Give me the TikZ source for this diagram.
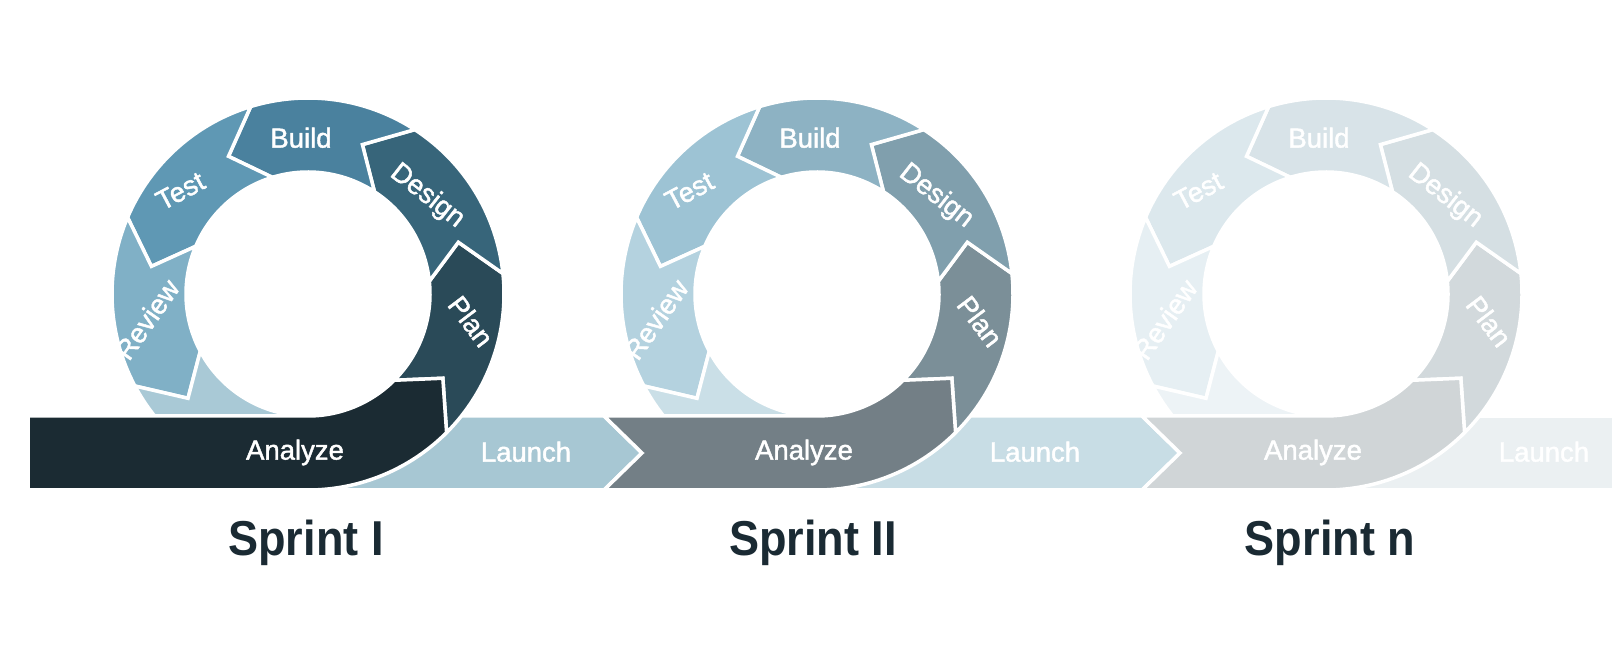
\documentclass[tikz,border=0pt]{standalone}
\usepackage{fontspec}
\setmainfont{Liberation Sans}
\newfontfamily\lblfont[FakeBold=1.6]{Liberation Sans}
\newfontfamily\ttlfont[FakeStretch=0.92]{Liberation Sans}
\definecolor{titlecol}{HTML}{1A2A33}
% Sprint I
\definecolor{anI}{HTML}{1B2B33}
\definecolor{plI}{HTML}{2A4A58}
\definecolor{deI}{HTML}{37657A}
\definecolor{buI}{HTML}{4A819E}
\definecolor{teI}{HTML}{5F98B4}
\definecolor{reI}{HTML}{80B0C6}
\definecolor{liI}{HTML}{A9C9D6}
\definecolor{laI}{HTML}{A7C7D3}
% Sprint II
\definecolor{anII}{HTML}{737F86}
\definecolor{plII}{HTML}{7B8F98}
\definecolor{deII}{HTML}{809FAD}
\definecolor{buII}{HTML}{8DB2C3}
\definecolor{teII}{HTML}{9DC3D4}
\definecolor{reII}{HTML}{B4D2DF}
\definecolor{liII}{HTML}{CADFE7}
\definecolor{laII}{HTML}{C8DDE5}
% Sprint n
\definecolor{anN}{HTML}{D0D5D7}
\definecolor{plN}{HTML}{D2D9DC}
\definecolor{deN}{HTML}{D5DFE3}
\definecolor{buN}{HTML}{D8E3E8}
\definecolor{teN}{HTML}{DCE8ED}
\definecolor{reN}{HTML}{E6EFF3}
\definecolor{liN}{HTML}{EDF3F6}
\definecolor{laN}{HTML}{EBF0F2}
\tikzset{
  sepline/.style={draw=white, line width=3.5pt, line join=miter},
  lbl/.style={text=white, font=\lblfont\fontsize{27.5}{30}\selectfont, inner sep=0pt, text height=0.72em, text depth=0pt, anchor=center},
  ttl/.style={text=titlecol, font=\ttlfont\bfseries\fontsize{49}{55}\selectfont, inner sep=0pt, anchor=base},
}
% ring segment: start angle, end angle, colour
\newcommand{\ringseg}[3]{%
  \filldraw[fill=#3, sepline] (#1:196pt) arc[start angle=#1, end angle=#2, radius=196pt]
    -- ({#2+13}:159pt) -- (#2:122pt) arc[start angle=#2, end angle=#1, radius=122pt]
    -- ({#1+13}:159pt) -- cycle;}
% tail piece going under the bar
\newcommand{\tailseg}[1]{%
  \filldraw[fill=#1, sepline] (208:196pt) arc[start angle=208, end angle=270, radius=196pt]
    -- (270:122pt) arc[start angle=270, end angle=208, radius=122pt]
    -- (221:159pt) -- cycle;}
% the ring of one sprint: suffix of colour names
\newcommand{\sprintring}[1]{%
  \ringseg{-45}{6}{pl#1}
  \ringseg{6}{57}{de#1}
  \ringseg{57}{107}{bu#1}
  \ringseg{107}{157}{te#1}
  \ringseg{157}{208}{re#1}
  \tailseg{li#1}}
\newcommand{\sprintlabels}[1]{%
  \node[lbl] (build#1) at (-7,150) {Build};
  \node[lbl, rotate=-38] (design#1) at (117,95) {Design};
  \node[lbl, rotate=-53] (plan#1) at (158,-31) {Plan};
  \node[lbl, rotate=28] (test#1) at (-125,98) {Test};
  \node[lbl, rotate=55] (review#1) at (-156,-29) {Review};
  \node[lbl] (analyze#1) at (-13,-162) {Analyze};
  \node[lbl] (launch#1) at (218,-164) {Launch};}
\begin{document}
\begin{tikzpicture}[x=1pt,y=1pt]
\fill[white] (0,0) rectangle (1612,648);
\useasboundingbox (0,0) rectangle (1612,648);

% ---------------- Sprint I ----------------
\begin{scope}[shift={(308,354)}]
  \filldraw[fill=laI, sepline] (0,-122) -- (296,-122) -- (334,-159) -- (296,-196) -- (0,-196) -- cycle;
  \sprintring{I}
  \filldraw[fill=anI, sepline] (-280,-122) -- (0,-122)
    arc[start angle=270, end angle=315, radius=122pt] -- (328:159pt) -- (315:196pt)
    arc[start angle=315, end angle=270, radius=196pt] -- (-280,-196) -- cycle;
  \sprintlabels{1}
  \node[ttl] (sprint1) at (-2,-262) {Sprint I};
\end{scope}

% ---------------- Sprint II ----------------
\begin{scope}[shift={(817,354)}]
  \filldraw[fill=laII, sepline] (0,-122) -- (325,-122) -- (363,-159) -- (325,-196) -- (0,-196) -- cycle;
  \sprintring{II}
  \filldraw[fill=anII, sepline] (-213,-122) -- (0,-122)
    arc[start angle=270, end angle=315, radius=122pt] -- (328:159pt) -- (315:196pt)
    arc[start angle=315, end angle=270, radius=196pt] -- (-213,-196) -- (-175,-159) -- cycle;
  \sprintlabels{2}
  \node[ttl] (sprint2) at (-4,-262) {Sprint II};
\end{scope}

% ---------------- Sprint n ----------------
\begin{scope}[shift={(1326,354)}]
  \filldraw[fill=laN, sepline] (0,-122) -- (300,-122) -- (300,-196) -- (0,-196) -- cycle;
  \sprintring{N}
  \filldraw[fill=anN, sepline] (-184,-122) -- (0,-122)
    arc[start angle=270, end angle=315, radius=122pt] -- (328:159pt) -- (315:196pt)
    arc[start angle=315, end angle=270, radius=196pt] -- (-184,-196) -- (-146,-159) -- cycle;
  \sprintlabels{3}
  \node[ttl] (sprint3) at (4,-262) {Sprint n};
\end{scope}
\end{tikzpicture}
\end{document}
